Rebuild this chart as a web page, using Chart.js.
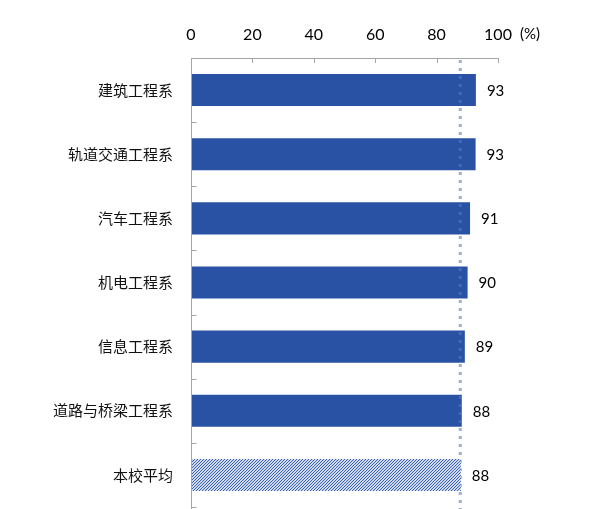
<!DOCTYPE html>
<html>
<head>
<meta charset="utf-8">
<script src="https://cdn.jsdelivr.net/npm/chart.js@4.4.0/dist/chart.umd.min.js"></script>
<style>
  html, body { margin: 0; padding: 0; background: #fff; }
  #wrap { width: 615px; height: 509px; }
</style>
</head>
<body>
<div id="wrap"><canvas id="myBarChart"></canvas></div>
<script>
// data
var departments = ["建筑工程系", "轨道交通工程系", "汽车工程系", "机电工程系", "信息工程系", "道路与桥梁工程系", "本校平均"];
var satisfaction = [92.8, 92.7, 90.9, 90.1, 89.2, 88.2, 87.9];
var shownLabels = ["93", "93", "91", "90", "89", "88", "88"];
var xTicks = [0, 20, 40, 60, 80, 100];
var schoolAverage = 87.7;

var barBlue = '#2a52a4';
var numFont = '15px Lato, "Open Sans", sans-serif';

// hatched fill for the school average bar
function hatch() {
    var c = document.createElement('canvas');
    c.width = 3; c.height = 3;
    var g = c.getContext('2d');
    g.fillStyle = '#d0dbf0';
    g.fillRect(0, 0, 3, 3);
    g.strokeStyle = '#3a60ae';
    g.lineWidth = 1;
    g.beginPath();
    g.moveTo(0, 3); g.lineTo(3, 0);
    g.moveTo(-1, 1); g.lineTo(1, -1);
    g.moveTo(2, 4); g.lineTo(4, 2);
    g.stroke();
    return g.createPattern(c, 'repeat');
}

var colors = departments.map(function (d, i) {
    return i == departments.length - 1 ? hatch() : barBlue;
});

function dotted(chart, color) {
    var ctx = chart.ctx, x = chart.scales.x.getPixelForValue(schoolAverage);
    ctx.save();
    ctx.strokeStyle = color;
    ctx.lineWidth = 3;
    ctx.setLineDash([3, 5]);
    ctx.beginPath();
    ctx.moveTo(x, chart.chartArea.top + 2);
    ctx.lineTo(x, chart.height);
    ctx.stroke();
    ctx.restore();
}

var extras = {
    id: 'extras',
    beforeDatasetsDraw: function (chart) {
        dotted(chart, '#a2b2ca');
    },
    afterDatasetsDraw: function (chart) {
        var ctx = chart.ctx, xs = chart.scales.x, ys = chart.scales.y;
        var top = chart.chartArea.top, left = xs.getPixelForValue(0);

        dotted(chart, 'rgba(150,175,225,0.25)');

        ctx.save();
        ctx.strokeStyle = '#a6a6a6';
        ctx.lineWidth = 1;
        // top axis line with inward ticks
        ctx.beginPath();
        ctx.moveTo(left, top + 0.5);
        ctx.lineTo(xs.getPixelForValue(100), top + 0.5);
        xTicks.forEach(function (v) {
            var px = Math.round(xs.getPixelForValue(v)) + 0.5;
            ctx.moveTo(px, top);
            ctx.lineTo(px, top + 5);
        });
        // left axis line with ticks between categories
        var lx = Math.round(left) + 0.5;
        ctx.moveTo(lx, top);
        ctx.lineTo(lx, chart.height);
        for (var i = 0; i <= departments.length; i++) {
            var py = Math.round(ys.getPixelForValue(i - 0.5)) + 0.5;
            ctx.moveTo(lx, py);
            ctx.lineTo(lx + 5, py);
        }
        ctx.stroke();

        // value labels
        ctx.fillStyle = '#000';
        ctx.font = numFont;
        ctx.textAlign = 'left';
        ctx.textBaseline = 'middle';
        chart.getDatasetMeta(0).data.forEach(function (bar, i) {
            ctx.fillText(shownLabels[i], bar.x + 11, bar.y + 1);
        });

        // unit
        ctx.font = '15px Lato, "Open Sans", sans-serif';
        ctx.fillText('(%)', xs.getPixelForValue(100) + 22, 34);
        ctx.restore();
    }
};

var ctx = document.getElementById('myBarChart').getContext('2d');
var chart = new Chart(ctx, {
    type: 'bar',
    data: {
        labels: departments,
        datasets: [{
            data: satisfaction,
            backgroundColor: colors,
            borderWidth: 0,
            barPercentage: 0.5,
            categoryPercentage: 1.0
        }]
    },
    options: {
        indexAxis: 'y',
        responsive: true,
        maintainAspectRatio: false,
        animation: false,
        layout: { padding: { top: 0, right: 117, bottom: 2, left: 0 } },
        plugins: {
            legend: { display: false },
            tooltip: { enabled: false }
        },
        scales: {
            x: {
                position: 'top',
                min: 0,
                max: 100,
                afterFit: function (s) { s.height = 58; },
                afterBuildTicks: function (s) {
                    s.ticks = xTicks.map(function (v) { return { value: v }; });
                },
                grid: { display: false, drawTicks: false },
                border: { display: false },
                ticks: {
                    padding: 14,
                    color: '#000',
                    font: { family: 'Lato, "Open Sans", sans-serif', size: 16 }
                }
            },
            y: {
                // fixed label column, and no extra room kept for label halves
                afterFit: function (s) {
                    s.width = 191;
                    s.paddingTop = 0;
                    s.paddingBottom = 0;
                },
                grid: { display: false, drawTicks: false },
                border: { display: false },
                ticks: {
                    padding: 18,
                    color: '#111',
                    font: { family: '"Noto Sans CJK SC", sans-serif', size: 15 }
                }
            }
        }
    },
    plugins: [extras]
});
</script>
</body>
</html>
